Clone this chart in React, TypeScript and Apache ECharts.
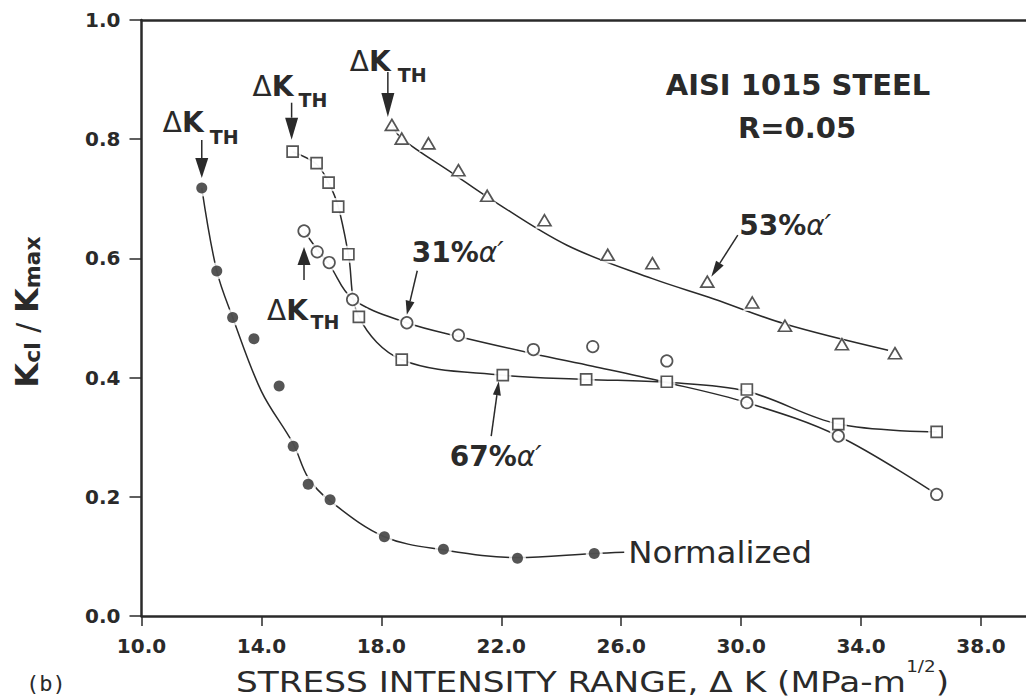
import React, { useEffect, useRef } from "react";
import * as echarts from "echarts";

// ---------- axis ticks ----------
const xTicks = [10, 14, 18, 22, 26, 30, 34, 38];
const yTicks = [0, 0.2, 0.4, 0.6, 0.8, 1.0];

// ---------- measured data points ----------
const normalizedPts: number[][] = [
  [12.01, 0.718], [12.51, 0.579], [13.04, 0.501], [13.75, 0.465], [14.59, 0.386],
  [15.06, 0.285], [15.56, 0.221], [16.29, 0.195], [18.1, 0.133], [20.07, 0.112],
  [22.54, 0.097], [25.1, 0.105],
];
const pct67Pts: number[][] = [
  [15.04, 0.779], [15.84, 0.76], [16.24, 0.727], [16.56, 0.687], [16.9, 0.607],
  [17.25, 0.502], [18.68, 0.43], [22.05, 0.404], [24.83, 0.397], [27.52, 0.393],
  [30.19, 0.38], [33.24, 0.322], [36.52, 0.309],
];
const pct31Pts: number[][] = [
  [15.42, 0.646], [15.86, 0.611], [16.26, 0.593], [17.04, 0.531], [18.85, 0.492],
  [20.57, 0.471], [23.07, 0.447], [25.05, 0.452], [27.52, 0.428], [30.19, 0.358],
  [33.24, 0.302], [36.52, 0.204],
];
const pct53Pts: number[][] = [
  [18.35, 0.824], [18.68, 0.801], [19.57, 0.793], [20.57, 0.748], [21.53, 0.705],
  [23.44, 0.664], [25.55, 0.606], [27.04, 0.592], [28.87, 0.561], [30.37, 0.526],
  [31.46, 0.487], [33.36, 0.456], [35.13, 0.441],
];

// ---------- hand-drawn fit curves ----------
const normalizedFit: number[][] = [
  [12.01, 0.718], [12.51, 0.579], [13.04, 0.501], [14.0, 0.377],
  [15.06, 0.289], [15.56, 0.232], [16.29, 0.193], [18.1, 0.133], [20.07, 0.111],
  [22.54, 0.098], [25.1, 0.105], [26.1, 0.107],
];
const pct67Fit: number[][] = [
  [15.04, 0.779], [15.84, 0.758], [16.24, 0.727], [16.56, 0.687], [16.9, 0.607],
  [17.25, 0.502], [18.68, 0.43], [22.05, 0.404], [24.83, 0.397], [27.52, 0.392],
  [30.19, 0.377], [33.24, 0.322], [36.52, 0.309],
];
const pct31Fit: number[][] = [
  [15.42, 0.646], [15.86, 0.615], [16.26, 0.590], [17.04, 0.532], [18.85, 0.492],
  [20.57, 0.469], [23.07, 0.440], [25.05, 0.419], [27.4, 0.393],
  [30.19, 0.358], [33.24, 0.302], [36.52, 0.204],
];
const pct53Fit: number[][] = [
  [18.35, 0.824], [18.68, 0.801], [20.4, 0.742], [21.63, 0.700], [24.19, 0.622],
  [27.04, 0.566], [29.09, 0.532], [31.46, 0.49], [34.9, 0.446],
];

const INK = "#2a2a2a";
const FONT = "DejaVu Sans";

function lineSeries(data: number[][]) {
  return {
    type: "line",
    data,
    smooth: 0.35,
    showSymbol: false,
    symbol: "none",
    lineStyle: { color: INK, width: 1.5 },
    z: 2,
    silent: true,
  };
}
function haloSeries(data: number[][], symbol: string, size: any) {
  const s = Array.isArray(size) ? [size[0] + 6, size[1] + 6] : size + 6;
  return {
    type: "scatter",
    data,
    symbol,
    symbolSize: s,
    itemStyle: { color: "#ffffff", borderWidth: 0 },
    z: 3,
    silent: true,
  };
}
function markerSeries(data: number[][], symbol: string, size: any, filled: boolean) {
  return {
    type: "scatter",
    data,
    symbol,
    symbolSize: size,
    itemStyle: filled
      ? { color: INK, borderWidth: 0 }
      : { color: "#ffffff", borderColor: INK, borderWidth: 1.7 },
    z: 4,
    silent: true,
  };
}

function txt(x: number, y: number, text: string, rich: any, align = "left", extra: any = {}) {
  return {
    type: "text",
    x,
    y,
    silent: true,
    z: 10,
    ...extra,
    style: {
      text,
      rich,
      fill: INK,
      align,
      verticalAlign: "middle",
      textAlign: align,
      textVerticalAlign: "middle",
    },
  };
}

function arrow(x1: number, y1: number, x2: number, y2: number, headLen: number, headW: number) {
  const dx = x2 - x1, dy = y2 - y1;
  const L = Math.hypot(dx, dy);
  const ux = dx / L, uy = dy / L;
  const bx = x2 - ux * headLen, by = y2 - uy * headLen;
  const px = -uy, py = ux;
  return [
    { type: "line", silent: true, z: 10, shape: { x1, y1, x2: bx, y2: by }, style: { stroke: INK, lineWidth: 1.5 } },
    {
      type: "polygon", silent: true, z: 10,
      shape: { points: [[x2, y2], [bx + (px * headW) / 2, by + (py * headW) / 2], [bx - (px * headW) / 2, by - (py * headW) / 2]] },
      style: { fill: INK },
    },
  ];
}

const dkRich = {
  d: { fontFamily: FONT, fontSize: 28, fontWeight: "normal", fill: INK },
  k: { fontFamily: FONT, fontSize: 28, fontWeight: "bold", fill: INK },
};
const thRich = { t: { fontFamily: FONT, fontSize: 19, fontWeight: "bold", fill: INK } };
const pctRich = {
  b: { fontFamily: FONT, fontSize: 28, fontWeight: "bold", fill: INK },
  a: { fontFamily: FONT, fontSize: 28, fontStyle: "italic", fontWeight: "normal", fill: INK },
};

function dkLabel(ax: number, ay: number, d: { dk: number[]; th: number[]; a: number[] }, headLen: number) {
  return [
    txt(ax + d.dk[0], ay + d.dk[1], "{d|Δ}{k|K}", dkRich),
    txt(ax + d.th[0], ay + d.th[1], "{t|TH}", thRich),
    ...arrow(ax + d.a[0], ay + d.a[1], ax + d.a[2], ay + d.a[3], headLen, 13),
  ];
}

function buildGraphics(px: (p: number[]) => number[]) {
  const g: any[] = [];
  // ΔK_TH labels
  let [x, y] = px(normalizedPts[0]);
  g.push(...dkLabel(x, y, { dk: [-39, -66], th: [8, -51], a: [0, -48, 0, -10] }, 20));
  [x, y] = px(pct67Pts[0]);
  g.push(...dkLabel(x, y, { dk: [-40, -65], th: [6, -52], a: [-1, -49, -1, -12] }, 22));
  [x, y] = px(pct53Pts[0]);
  g.push(...dkLabel(x, y, { dk: [-42, -63], th: [6, -49.5], a: [-4, -53, -4, -8] }, 24));
  [x, y] = px(pct31Pts[0]);
  g.push(...dkLabel(x, y, { dk: [-37, 80], th: [6.5, 91.5], a: [0, 49, 0, 16] }, 18));

  // percentage labels
  [x, y] = px(pct31Pts[4]);
  g.push(txt(x + 5, y - 70, "{b|31%}{a|α′}", pctRich));
  g.push(...arrow(x + 10.4, y - 52, x, y - 8, 14, 9));
  [x, y] = px(pct53Pts[8]);
  g.push(txt(x + 32, y - 56, "{b|53%}{a|α′}", pctRich));
  g.push(...arrow(x + 30.5, y - 46.6, x + 4, y - 5, 16, 9));
  [x, y] = px(pct67Pts[7]);
  g.push(txt(x - 53, y + 81, "{b|67%}{a|α′}", pctRich));
  g.push(...arrow(x - 11.6, y + 61, x - 4, y + 6, 14, 8));

  // Normalized
  [x, y] = px(normalizedPts[normalizedPts.length - 1]);
  g.push(
    txt(x + 34, y - 1, "{n|Normalized}", { n: { fontFamily: FONT, fontSize: 30, fill: INK } }, "left", { scaleX: 1.08 })
  );

  // material info
  g.push(txt(798, 85, "{b|AISI 1015 STEEL}", { b: { fontFamily: FONT, fontSize: 29, fontWeight: "bold", fill: INK } }, "center"));
  g.push(txt(797, 128, "{b|R=0.05}", { b: { fontFamily: FONT, fontSize: 29, fontWeight: "bold", fill: INK } }, "center"));

  // x axis title
  g.push(
    txt(
      592.5, 682,
      "{t|STRESS INTENSITY RANGE, Δ K (MPa-m}{s|1/2}{t|)}",
      {
        t: { fontFamily: FONT, fontSize: 28, lineHeight: 26, fill: INK },
        s: { fontFamily: FONT, fontSize: 15, lineHeight: 26, fill: INK, padding: [0, 0, 30, 0] },
      },
      "center",
      { scaleX: 1.226 }
    )
  );
  // y axis title (rotated)
  g.push(
    txt(
      27, 312,
      "{k|K}{s|cl}{n| / }{k|K}{s|max}",
      {
        k: { fontFamily: FONT, fontSize: 32, fontWeight: "bold", fill: INK },
        n: { fontFamily: FONT, fontSize: 30, fontWeight: "normal", fill: INK },
        s: { fontFamily: FONT, fontSize: 22, fontWeight: "bold", fill: INK, padding: [10, 0, 0, 0] },
      },
      "center",
      { rotation: Math.PI / 2 }
    )
  );
  // panel tag
  g.push(txt(26, 683, "{p|(b)}", { p: { fontFamily: "DejaVu Sans Mono", fontSize: 22, lineHeight: 24, fill: INK } }));
  return g;
}

const axisLabelStyle = {
  fontFamily: FONT,
  fontWeight: "bold",
  fontSize: 20,
  color: INK,
};

const option: any = {
  animation: false,
  backgroundColor: "#ffffff",
  grid: { left: 141.5, right: 0, top: 20, bottom: 82, containLabel: false, outerBoundsMode: "none" },
  xAxis: [
    {
      type: "value",
      min: 10,
      max: 39.5,
      position: "bottom",
      axisLine: { show: true, lineStyle: { color: INK, width: 2.5 } },
      axisTick: { show: true, inside: false, length: 10, customValues: xTicks, lineStyle: { color: INK, width: 1.5 } },
      axisLabel: { ...axisLabelStyle, customValues: xTicks, margin: 20, formatter: (v: number) => v.toFixed(1) },
      splitLine: { show: false },
    },
    {
      type: "value",
      min: 10,
      max: 39.5,
      position: "top",
      axisLine: { show: true, lineStyle: { color: INK, width: 2.5 } },
      axisTick: { show: false },
      axisLabel: { show: false },
      splitLine: { show: false },
    },
  ],
  yAxis: {
    type: "value",
    min: 0,
    max: 1,
    interval: 0.2,
    axisLine: { show: true, lineStyle: { color: INK, width: 2.5 } },
    axisTick: { show: true, inside: false, length: 12, lineStyle: { color: INK, width: 1.5 } },
    axisLabel: { ...axisLabelStyle, margin: 21, customValues: yTicks, formatter: (v: number) => v.toFixed(1) },
    splitLine: { show: false },
  },
  series: [
    lineSeries(normalizedFit),
    lineSeries(pct67Fit),
    lineSeries(pct31Fit),
    lineSeries(pct53Fit),
    haloSeries(normalizedPts, "circle", 11),
    haloSeries(pct67Pts, "rect", 11),
    haloSeries(pct31Pts, "circle", 11.5),
    haloSeries(pct53Pts, "triangle", [13, 11]),
    markerSeries(normalizedPts, "circle", 11, true),
    markerSeries(pct67Pts, "rect", 11, false),
    markerSeries(pct31Pts, "circle", 11.5, false),
    markerSeries(pct53Pts, "triangle", [13, 11], false),
  ],
};

export default function App() {
  const ref = useRef<HTMLDivElement>(null);
  useEffect(() => {
    const el = ref.current;
    if (!el) return;
    const chart = echarts.init(el, null, { renderer: "svg" });
    chart.setOption(option);
    const px = (p: number[]) => chart.convertToPixel({ xAxisIndex: 0, yAxisIndex: 0 }, p) as number[];
    chart.setOption({ graphic: buildGraphics(px) });
    return () => chart.dispose();
  }, []);
  return (
    <div
      ref={ref}
      style={{ position: "fixed", left: 0, top: 0, width: 1026, height: 698, background: "#ffffff" }}
    />
  );
}
